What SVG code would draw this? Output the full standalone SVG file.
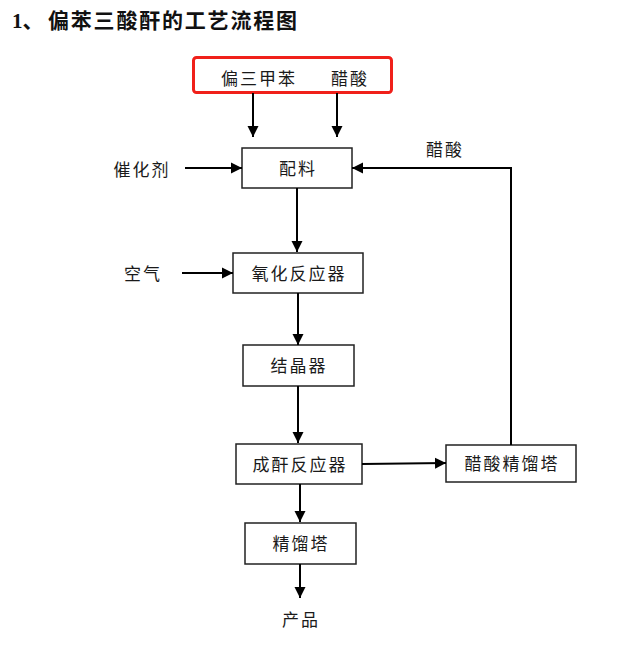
<svg xmlns="http://www.w3.org/2000/svg" width="619" height="646" viewBox="0 0 619 646">
<style>
.t{font-family:"Liberation Sans","Noto Sans CJK SC",sans-serif;font-size:17px;letter-spacing:2px;fill:#1a1a1a;text-anchor:middle;dominant-baseline:central}
.box{fill:#fff;stroke:#222;stroke-width:1.5}
.ln{fill:none;stroke:#000;stroke-width:2}
.title{font-family:"Liberation Serif","Noto Sans CJK SC",serif;font-size:21px;font-weight:bold;fill:#111}
</style>
<defs>
<marker id="ah" markerUnits="userSpaceOnUse" markerWidth="12" markerHeight="12" viewBox="0 0 12 12" refX="11" refY="6" orient="auto">
<path d="M0,0.5 L11,6 L0,11.5 Z" fill="#000"/>
</marker>
</defs>
<rect width="619" height="646" fill="#fff"/>
<text class="title" x="12" y="28">1、<tspan x="48" font-family="Noto Sans CJK SC" font-weight="600" letter-spacing="1.8">偏苯三酸酐的工艺流程图</tspan></text>

<g id="source">
<rect x="193.5" y="57.5" width="198" height="35" rx="3" fill="none" stroke="#f0201a" stroke-width="3"/>
<text class="t" x="259" y="79">偏三甲苯</text>
<text class="t" x="350" y="79">醋酸</text>
</g>
<g id="catalyst"><text class="t" x="142" y="170">催化剂</text></g>
<g id="air"><text class="t" x="143" y="274">空气</text></g>
<g id="acetic-label"><text class="t" x="445" y="150">醋酸</text></g>
<g id="mixing"><rect class="box" x="242" y="148" width="110" height="40"/><text class="t" x="298" y="169">配料</text></g>
<g id="oxidation"><rect class="box" x="233" y="253" width="130" height="40"/><text class="t" x="299" y="274">氧化反应器</text></g>
<g id="crystallizer"><rect class="box" x="243" y="345" width="111" height="41"/><text class="t" x="299" y="366">结晶器</text></g>
<g id="anhydride"><rect class="box" x="236" y="444" width="126" height="40"/><text class="t" x="300" y="465">成酐反应器</text></g>
<g id="acetic-column"><rect class="box" x="446" y="445" width="130" height="37"/><text class="t" x="512" y="464">醋酸精馏塔</text></g>
<g id="rectifier"><rect class="box" x="245" y="523" width="111" height="41"/><text class="t" x="301" y="544">精馏塔</text></g>
<g id="product"><text class="t" x="301" y="620">产品</text></g>

<g id="connectors">
<line class="ln" x1="253" y1="93" x2="253" y2="137" marker-end="url(#ah)"/>
<line class="ln" x1="337" y1="93" x2="337" y2="137" marker-end="url(#ah)"/>
<line class="ln" x1="185" y1="168" x2="242" y2="168" marker-end="url(#ah)"/>
<line class="ln" x1="297" y1="188" x2="297" y2="252" marker-end="url(#ah)"/>
<line class="ln" x1="182" y1="273" x2="233" y2="273" marker-end="url(#ah)"/>
<line class="ln" x1="298" y1="293" x2="298" y2="345" marker-end="url(#ah)"/>
<line class="ln" x1="298" y1="386" x2="298" y2="443" marker-end="url(#ah)"/>
<line class="ln" x1="362" y1="464" x2="446" y2="463" marker-end="url(#ah)"/>
<polyline class="ln" points="511,445 511,168 352,168" marker-end="url(#ah)"/>
<line class="ln" x1="300" y1="484" x2="300" y2="522" marker-end="url(#ah)"/>
<line class="ln" x1="300" y1="564" x2="300" y2="598" marker-end="url(#ah)"/>
</g>
</svg>
